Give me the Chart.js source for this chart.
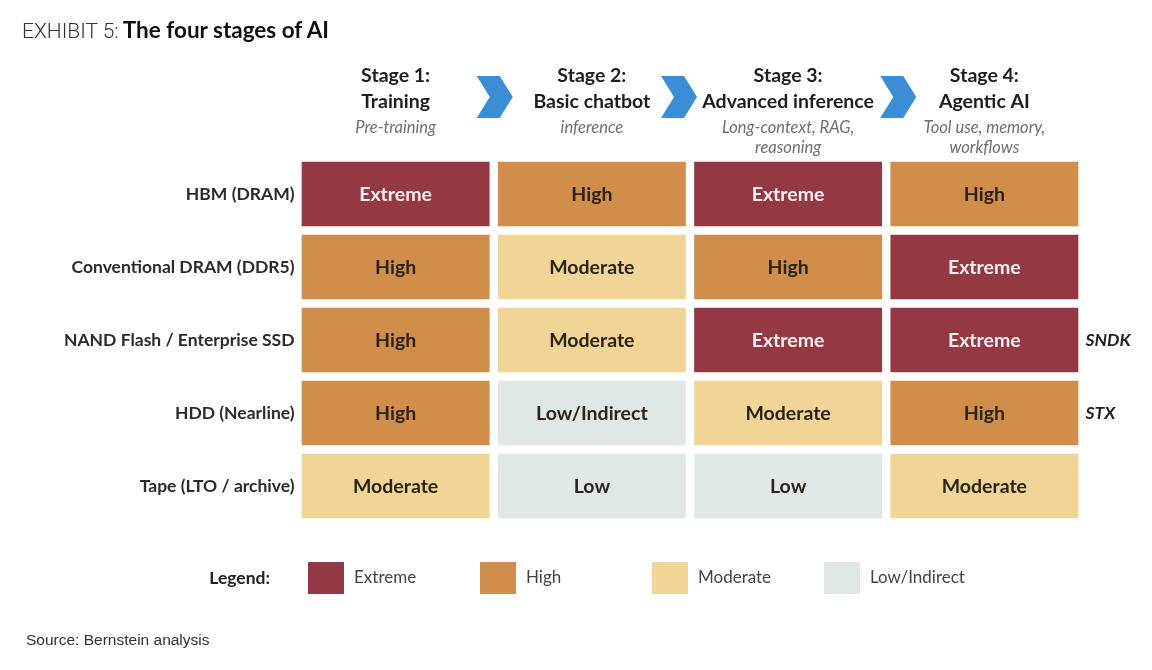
<!DOCTYPE html>
<html>
<head>
<meta charset="utf-8">
<title>The four stages of AI</title>
<script src="https://cdn.jsdelivr.net/npm/chart.js@4.4.1/dist/chart.umd.min.js"></script>
<style>
  html, body { margin: 0; padding: 0; background: #fff; }
  #wrap { position: relative; width: 1152px; height: 670px; overflow: hidden; }
  #box { position: absolute; left: 0; top: 0; width: 1152px; height: 670px; }
  #title { position: absolute; left: 22px; top: 16px; color: #333; white-space: nowrap; }
  #title .ex { font-family: Roboto, sans-serif; font-weight: 300; font-size: 21px; }
  #title b { font-family: Lato, sans-serif; font-weight: 700; font-size: 22.5px; color: #111; }
  #source { position: absolute; left: 26px; top: 631px; font: 15.5px "Liberation Sans", Arial, sans-serif; color: #333; }
</style>
</head>
<body>
<div id="wrap">
  <div id="box"><canvas id="chart"></canvas></div>
  <div id="title"><span class="ex">EXHIBIT 5:</span> <b>The four stages of AI</b></div>
  <div id="source">Source: Bernstein analysis</div>
</div>
<script>
// rows (memory / storage tiers)
const rows = ['HBM (DRAM)', 'Conventional DRAM (DDR5)', 'NAND Flash / Enterprise SSD', 'HDD (Nearline)', 'Tape (LTO / archive)'];
const tickers = ['', '', 'SNDK', 'STX', ''];

// columns (stages)
const stageTitles = [['Stage 1:', 'Training'], ['Stage 2:', 'Basic chatbot'], ['Stage 3:', 'Advanced inference'], ['Stage 4:', 'Agentic AI']];
const stageNotes = [['Pre-training'], ['inference'], ['Long-context, RAG,', 'reasoning'], ['Tool use, memory,', 'workflows']];

// demand level per cell, one array per stage (top row first)
const stage1 = ['Extreme', 'High', 'High', 'High', 'Moderate'];
const stage2 = ['High', 'Moderate', 'Moderate', 'Low/Indirect', 'Low'];
const stage3 = ['Extreme', 'High', 'Extreme', 'Moderate', 'Low'];
const stage4 = ['High', 'Extreme', 'Extreme', 'High', 'Moderate'];

const levels = ['Extreme', 'High', 'Moderate', 'Low/Indirect'];
const levelColors = ['#943844', '#d18e4b', '#f1d596', '#dfe8e7'];

const stages = [stage1, stage2, stage3, stage4];
const levelOf = t => t === 'Low' ? 'Low/Indirect' : t;
const colorOf = t => levelColors[levels.indexOf(levelOf(t))];

const FONT = 'Lato, "Open Sans", sans-serif';

const decor = {
    id: 'decor',
    afterDatasetsDraw(chart) {
        const { ctx } = chart;
        const x = chart.scales.x;
        ctx.save();
        ctx.textAlign = 'center';
        ctx.textBaseline = 'middle';

        // cell labels
        chart.data.datasets.forEach((ds, di) => {
            chart.getDatasetMeta(di).data.forEach((bar, i) => {
                const text = ds.cells[i];
                ctx.fillStyle = levelOf(text) === 'Extreme' ? '#f8eeee' : '#2c2318';
                ctx.font = 'bold 19.5px ' + FONT;
                ctx.fillText(text, (bar.x + bar.base) / 2, bar.y + 1);
            });
        });

        // column headers
        stageTitles.forEach((lines, i) => {
            const cx = x.getPixelForValue(i + 0.5);
            ctx.fillStyle = '#1e1e1e';
            ctx.font = 'bold 19.5px ' + FONT;
            lines.forEach((l, j) => ctx.fillText(l, cx, 76 + j * 25.5));
            ctx.fillStyle = '#6f6f6f';
            ctx.font = 'italic 16.5px ' + FONT;
            stageNotes[i].forEach((l, j) => ctx.fillText(l, cx, 127.5 + j * 20));
        });

        // chevrons between the stages
        const shift = [1, -11, 12];
        ctx.fillStyle = '#3b8ed6';
        for (let i = 1; i < stageTitles.length; i++) {
            const cx = x.getPixelForValue(i) + shift[i - 1], cy = 97;
            ctx.beginPath();
            ctx.moveTo(cx - 18, cy - 21);
            ctx.lineTo(cx + 5, cy - 21);
            ctx.lineTo(cx + 18, cy);
            ctx.lineTo(cx + 5, cy + 21);
            ctx.lineTo(cx - 18, cy + 21);
            ctx.lineTo(cx - 5, cy);
            ctx.closePath();
            ctx.fill();
        }

        // legend
        ctx.textAlign = 'right';
        ctx.fillStyle = '#222';
        ctx.font = 'bold 17.5px ' + FONT;
        ctx.fillText('Legend:', 270, 578);
        ctx.textAlign = 'left';
        levels.forEach((lvl, i) => {
            const lx = 308 + i * 172;
            ctx.fillStyle = levelColors[i];
            ctx.fillRect(lx, 562, 36, 32);
            ctx.fillStyle = '#444';
            ctx.font = '17px ' + FONT;
            ctx.fillText(lvl, lx + 46, 578);
        });
        ctx.restore();
    }
};

new Chart(document.getElementById('chart'), {
    type: 'bar',
    data: {
        labels: rows,
        datasets: stages.map((cells, i) => ({
            label: stageTitles[i].join(' '),
            data: cells.map(() => 1),
            cells: cells,
            backgroundColor: cells.map(colorOf),
            borderColor: '#ffffff',
            borderWidth: 4.5,
            borderSkipped: false,
            barPercentage: 1,
            categoryPercentage: 1
        }))
    },
    options: {
        indexAxis: 'y',
        responsive: true,
        maintainAspectRatio: false,
        animation: false,
        layout: { padding: { top: 157.5, bottom: 147.5, left: 0, right: 0 } },
        plugins: { legend: { display: false }, tooltip: { enabled: false } },
        scales: {
            x: { type: 'linear', stacked: true, min: 0, max: stages.length, display: false },
            y: {
                stacked: true,
                grid: { display: false, drawTicks: false },
                border: { display: false },
                ticks: { padding: 3, autoSkip: false, color: '#2b2b2b', font: { family: FONT, size: 17.5, weight: 'bold' } },
                afterFit: s => { s.width = 297.5; }
            },
            y2: {
                type: 'category',
                labels: tickers,
                position: 'right',
                offset: true,
                grid: { display: false, drawTicks: false },
                border: { display: false },
                ticks: { padding: 3, autoSkip: false, color: '#222', font: { family: FONT, size: 17.5, weight: 'bold', style: 'italic' } },
                afterFit: s => { s.width = 69.5; }
            }
        }
    },
    plugins: [decor]
});
</script>
</body>
</html>
